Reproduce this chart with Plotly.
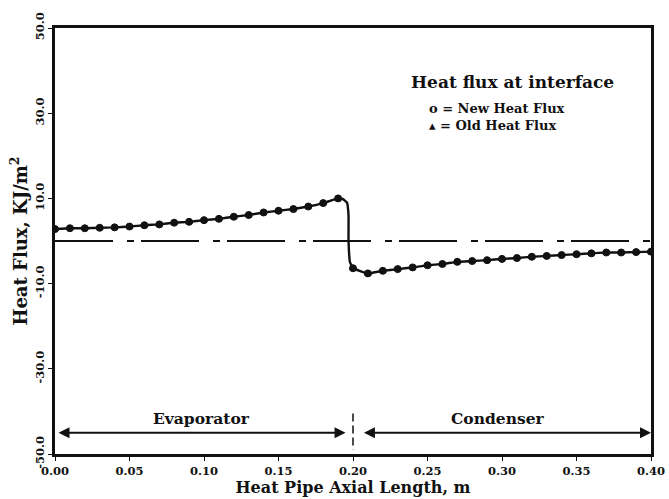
import plotly.graph_objects as go

# Evaporator section (0.00 - 0.19 m)
x_evap = [0.00, 0.01, 0.02, 0.03, 0.04, 0.05, 0.06, 0.07, 0.08, 0.09,
          0.10, 0.11, 0.12, 0.13, 0.14, 0.15, 0.16, 0.17, 0.18, 0.19]
q_evap = [2.8, 3.0, 3.0, 3.1, 3.2, 3.4, 3.7, 3.9, 4.3, 4.5,
          4.9, 5.2, 5.7, 6.1, 6.7, 7.1, 7.5, 8.1, 8.9, 10.0]

# Condenser section (0.20 - 0.40 m)
x_cond = [0.20, 0.21, 0.22, 0.23, 0.24, 0.25, 0.26, 0.27, 0.28, 0.29, 0.30,
          0.31, 0.32, 0.33, 0.34, 0.35, 0.36, 0.37, 0.38, 0.39, 0.40]
q_cond = [-6.4, -7.6, -7.0, -6.6, -6.2, -5.7, -5.4, -4.9, -4.7, -4.5, -4.2,
          -4.0, -3.7, -3.5, -3.3, -3.1, -2.9, -2.7, -2.7, -2.6, -2.5]

# Steep transition between the sections (line only)
x_jump = [0.193, 0.196, 0.197, 0.197, 0.198]
q_jump = [9.9, 9.0, 6.0, 0.0, -5.0]

y_ticks = [50, 30, 10, -10, -30, -50]
y_tick_labels = ["50.0", "30.0", "10.0", "-10.0", "-30.0", "-50.0"]
x_ticks = [0.00, 0.05, 0.10, 0.15, 0.20, 0.25, 0.30, 0.35, 0.40]
x_tick_labels = ["0.00", "0.05", "0.10", "0.15", "0.20", "0.25", "0.30", "0.35", "0.40"]

FONT = "DejaVu Serif"
BLACK = "#111111"

fig = go.Figure()

# zero reference line (dash-dot)
fig.add_trace(go.Scatter(x=[0.0, 0.4], y=[0, 0], mode="lines",
                         line=dict(color=BLACK, width=2.2, dash="58px,14px,7px,7px"),
                         hoverinfo="skip", showlegend=False))

# curve
fig.add_trace(go.Scatter(x=x_evap + x_jump + x_cond, y=q_evap + q_jump + q_cond,
                         mode="lines", line=dict(color=BLACK, width=2.4, shape="spline", smoothing=0.3),
                         showlegend=False))

# old heat flux (triangles)
fig.add_trace(go.Scatter(x=x_evap + x_cond, y=q_evap + q_cond, mode="markers",
                         marker=dict(symbol="triangle-up", size=7, color=BLACK),
                         name="Old Heat Flux", showlegend=False))
# new heat flux (circles)
fig.add_trace(go.Scatter(x=x_evap + x_cond, y=q_evap + q_cond, mode="markers",
                         marker=dict(symbol="circle", size=7, color=BLACK,
                                     line=dict(color=BLACK, width=1)),
                         name="New Heat Flux", showlegend=False))

# vertical dashed divider at 0.20
fig.add_trace(go.Scatter(x=[0.2, 0.2], y=[-40.5, -49], mode="lines",
                         line=dict(color=BLACK, width=1.5, dash="8px,4px"),
                         hoverinfo="skip", showlegend=False))

# double-headed arrows for the sections
for x0, x1 in [(0.0, 0.195), (0.205, 0.4)]:
    fig.add_annotation(x=x1, y=-45, ax=x0, ay=-45, xref="x", yref="y",
                       axref="x", ayref="y", showarrow=True, text=" ",
                       arrowhead=2, arrowside="end+start", arrowsize=1.1,
                       arrowwidth=2, arrowcolor=BLACK)
fig.add_annotation(x=0.098, y=-41.6, xref="x", yref="y", text="Evaporator",
                   showarrow=False, font=dict(family=FONT, size=15.5, color=BLACK, weight="bold"))
fig.add_annotation(x=0.297, y=-41.6, xref="x", yref="y", text="Condenser",
                   showarrow=False, font=dict(family=FONT, size=15.5, color=BLACK, weight="bold"))

# legend-like text block
fig.add_annotation(x=0.768, y=0.873, xref="paper", yref="paper", xanchor="center",
                   yanchor="middle", text="Heat flux at interface", showarrow=False,
                   font=dict(family=FONT, size=17, color=BLACK, weight="bold"))
fig.add_annotation(x=0.624, y=0.79, xref="paper", yref="paper", xanchor="left",
                   yanchor="middle", align="left",
                   text="o = New Heat Flux<br>\u25b4 = Old Heat Flux", showarrow=False,
                   font=dict(family=FONT, size=13, color=BLACK, weight="bold"))

fig.update_layout(
    width=669, height=499,
    margin=dict(l=55, r=18, t=28, b=45),
    paper_bgcolor="white", plot_bgcolor="white",
    font=dict(family=FONT, color=BLACK, size=12),
    xaxis=dict(range=[0, 0.4], tickvals=x_ticks, ticktext=x_tick_labels,
               showgrid=False, zeroline=False, showline=True, linecolor=BLACK,
               linewidth=2.5, mirror=True, ticks="outside", ticklen=4, tickcolor=BLACK,
               automargin=False,
               tickfont=dict(family=FONT, size=11.5, color=BLACK, weight="bold"),
               title=dict(text="Heat Pipe Axial Length, m", standoff=2,
                          font=dict(family=FONT, size=16, color=BLACK, weight="bold"))),
    yaxis=dict(range=[-50, 50], tickvals=y_ticks, ticktext=y_tick_labels, tickangle=-90,
               showgrid=False, zeroline=False, showline=True, linecolor=BLACK,
               linewidth=2.5, mirror=True, ticks="outside", ticklen=4, tickcolor=BLACK,
               automargin=False,
               tickfont=dict(family=FONT, size=11.5, color=BLACK, weight="bold"),
               title=dict(text="Heat Flux, KJ/m<sup>2</sup>", standoff=1,
                          font=dict(family=FONT, size=18, color=BLACK, weight="bold"))),
    showlegend=False,
)

fig.write_html("out.html", config={"displayModeBar": False},
               post_script="document.body.style.margin='0px';")
